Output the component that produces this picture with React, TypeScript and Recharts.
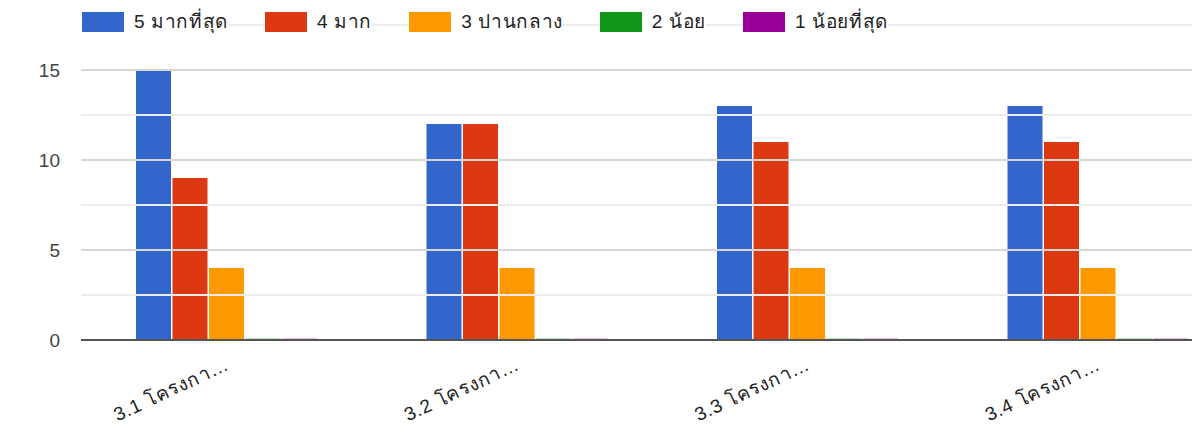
import React from 'react';
import { BarChart, Bar, XAxis, YAxis, ReferenceLine } from 'recharts';

// คะแนนความพึงพอใจ 5 ระดับ ต่อโครงการ
const categories = ['3.1 โครงกา…', '3.2 โครงกา…', '3.3 โครงกา…', '3.4 โครงกา…'];
const level5 = [15, 12, 13, 13];
const level4 = [9, 12, 11, 11];
const level3 = [4, 4, 4, 4];
const level2 = [0, 0, 0, 0];
const level1 = [0, 0, 0, 0];

const seriesNames = ['5 มากที่สุด', '4 มาก', '3 ปานกลาง', '2 น้อย', '1 น้อยที่สุด'];
const seriesColors = ['#3366cc', '#dc3912', '#ff9900', '#109618', '#990099'];
const seriesKeys = ['l5', 'l4', 'l3', 'l2', 'l1'];

const yTicks = [0, 2.5, 5, 7.5, 10, 12.5, 15, 17.5];
const yLabels = [0, 5, 10, 15];

const FONT = "Arial, 'Liberation Sans', 'Noto Sans', sans-serif";

const data = categories.map((name, i) => ({
    name,
    l5: level5[i],
    l4: level4[i],
    l3: level3[i],
    l2: level2[i],
    l1: level1[i],
}));

const YTick = (props: any) => {
    const { x, y, payload } = props;
    if (!yLabels.includes(payload.value)) return null;
    return (
        <text x={x} y={y} dy={7} textAnchor="end" fill="#444" fontSize={19} fontFamily={FONT}>
            {payload.value}
        </text>
    );
};

const XTick = (props: any) => {
    const { x, y, payload } = props;
    const tx = x + 4;
    const ty = y + 21;
    return (
        <text
            x={tx}
            y={ty}
            textAnchor="end"
            fill="#222"
            fontSize={19}
            letterSpacing={0.8}
            fontFamily={FONT}
            transform={`rotate(-25, ${tx}, ${ty})`}
        >
            {payload.value}
        </text>
    );
};

const ChartLegend = () => (
    <div
        style={{
            position: 'absolute',
            top: 12,
            left: 82,
            display: 'flex',
            gap: 37,
            fontFamily: FONT,
            fontSize: 19,
            letterSpacing: 0.65,
            color: '#222',
        }}
    >
        {seriesNames.map((name, i) => (
            <div key={name} style={{ display: 'flex', alignItems: 'center', background: '#fff', height: 20 }}>
                <span style={{ width: 42, height: 20, background: seriesColors[i], marginRight: 10 }} />
                <span style={{ lineHeight: '20px' }}>{name}</span>
            </div>
        ))}
    </div>
);

export default function App() {
    return (
        <div
            style={{
                position: 'fixed',
                top: 0,
                left: 0,
                width: 1192,
                height: 434,
                overflow: 'hidden',
                background: '#fff',
            }}
        >
            <BarChart
                width={1243}
                height={434}
                data={data}
                margin={{ top: 25, right: 0, bottom: 0, left: 0 }}
                barCategoryGap={55}
                barGap={1.5}
            >
                {yTicks.map(t => (
                    <ReferenceLine
                        key={t}
                        y={t}
                        stroke={t % 5 === 0 ? '#d6d6d6' : '#ececec'}
                        strokeWidth={2}
                    />
                ))}
                <XAxis
                    dataKey="name"
                    height={94}
                    tickLine={false}
                    axisLine={false}
                    interval={0}
                    tick={<XTick />}
                />
                <YAxis
                    width={81}
                    domain={[0, 17.5]}
                    ticks={yTicks}
                    axisLine={false}
                    tickLine={false}
                    tickSize={0}
                    tickMargin={21}
                    tick={<YTick />}
                />
                {seriesKeys.map((k, i) => (
                    <Bar
                        key={k}
                        dataKey={k}
                        name={seriesNames[i]}
                        fill={seriesColors[i]}
                        fillOpacity={i >= 3 ? 0.25 : 1}
                        minPointSize={i >= 3 ? 2 : 0}
                        isAnimationActive={false}
                    />
                ))}
                <ReferenceLine y={0} stroke="#555" strokeWidth={2} />
            </BarChart>
            <ChartLegend />
        </div>
    );
}
